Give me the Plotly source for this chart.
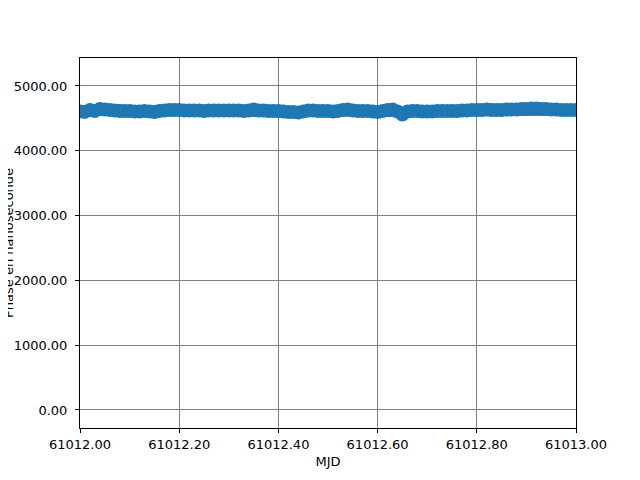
"""Phase (ns) versus MJD, one day of samples."""

import numpy as np
import plotly.graph_objects as go

# MJD sampled every 0.01 day
mjd_start = 61012.0
mjd_step = 0.01

# phase values, one per sample
phase_ns = [
    4606, 4600, 4630, 4614, 4645, 4637, 4630, 4622, 4614, 4614,
    4614, 4606, 4606, 4614, 4606, 4599, 4614, 4622, 4630, 4630,
    4630, 4622, 4622, 4622, 4622, 4614, 4622, 4622, 4622, 4622,
    4622, 4622, 4622, 4614, 4622, 4637, 4622, 4622, 4614, 4614,
    4614, 4606, 4599, 4599, 4591, 4606, 4622, 4622, 4614, 4614,
    4614, 4606, 4614, 4630, 4637, 4622, 4614, 4614, 4614, 4606,
    4599, 4614, 4630, 4637, 4606, 4560, 4606, 4614, 4614, 4606,
    4606, 4606, 4614, 4614, 4614, 4614, 4614, 4622, 4622, 4630,
    4630, 4630, 4637, 4630, 4630, 4630, 4637, 4637, 4637, 4645,
    4645, 4653, 4653, 4645, 4645, 4637, 4637, 4630, 4630, 4630,
    4630,
]

mjd = mjd_start + mjd_step * np.arange(len(phase_ns))

y_ticks = [0, 1000, 2000, 3000, 4000, 5000]
x_ticks = [61012.0, 61012.2, 61012.4, 61012.6, 61012.8, 61013.0]
y_range = [-278, 5432]

font = dict(family="DejaVu Sans", size=13, color="black")

fig = go.Figure()
fig.add_trace(
    go.Scatter(
        x=mjd,
        y=phase_ns,
        mode="lines+markers",
        line=dict(color="#1f77b4", width=11),
        marker=dict(color="#1f77b4", size=14),
        showlegend=False,
    )
)

axis_common = dict(
    showline=True,
    linecolor="black",
    linewidth=1,
    mirror=True,
    ticks="outside",
    ticklen=4,
    tickcolor="black",
    showgrid=True,
    gridcolor="#808080",
    gridwidth=1,
    zeroline=False,
    tickformat=".2f",
    tickfont=font,
    automargin=False,
)

fig.update_xaxes(
    range=[x_ticks[0], x_ticks[-1]],
    tickvals=x_ticks,
    title=dict(text="MJD", font=font, standoff=6),
    **axis_common,
)
fig.update_yaxes(
    range=y_range,
    tickvals=y_ticks,
    ticklabelstandoff=5,
    **axis_common,
)

# y label: anchored on the left axis and shifted in pixels so it runs off the
# page edge like the original (an invisible arrow keeps margins untouched)
fig.add_annotation(
    text="Phase en nanoseconde",
    textangle=-90,
    x=x_ticks[0],
    y=sum(y_range) / 2,
    xref="x",
    yref="y",
    showarrow=True,
    arrowcolor="rgba(0,0,0,0)",
    arrowwidth=0.1,
    axref="pixel",
    ayref="pixel",
    ax=-82,
    ay=0,
    xanchor="center",
    yanchor="middle",
    font=font,
)

# the page adds an 8px body margin, so margins are 8px smaller at left/top
fig.update_layout(
    width=640,
    height=480,
    margin=dict(l=72, r=72, t=50, b=60),
    paper_bgcolor="white",
    plot_bgcolor="white",
    font=font,
)

fig.write_html("out.html")
